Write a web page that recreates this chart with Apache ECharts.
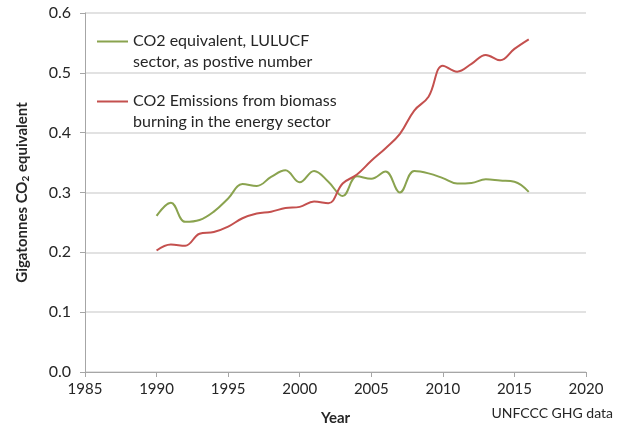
<!DOCTYPE html>
<html>
<head>
<meta charset="utf-8">
<script src="https://cdn.jsdelivr.net/npm/echarts@6/dist/echarts.min.js"></script>
<style>
  html, body { margin: 0; padding: 0; background: #ffffff; }
  #chart { width: 623px; height: 429px; }
</style>
</head>
<body>
<div id="chart"></div>
<script>
// values (Gt CO2 eq)
var years = [1990, 1991, 1992, 1993, 1994, 1995, 1996, 1997, 1998, 1999,
  2000, 2001, 2002, 2003, 2004, 2005, 2006, 2007, 2008, 2009,
  2010, 2011, 2012, 2013, 2014, 2015, 2016]
var lulucf = [0.261, 0.283, 0.251, 0.254, 0.268, 0.290, 0.314, 0.311, 0.326, 0.337,
  0.317, 0.336, 0.318, 0.294, 0.327, 0.323, 0.335, 0.300, 0.336, 0.332,
  0.324, 0.315, 0.316, 0.322, 0.320, 0.318, 0.301]
var biomass = [0.203, 0.213, 0.211, 0.231, 0.234, 0.243, 0.257, 0.265, 0.268, 0.274,
  0.276, 0.285, 0.282, 0.315, 0.330, 0.353, 0.374, 0.398, 0.437, 0.460,
  0.512, 0.502, 0.515, 0.530, 0.521, 0.540, 0.556]
var seriesNames = ['CO2 equivalent, LULUCF sector, as postive number',
  'CO2 Emissions from biomass burning in the energy sector']
var legendLines = {}
legendLines[seriesNames[0]] = 'CO2 equivalent, LULUCF\nsector, as postive number'
legendLines[seriesNames[1]] = 'CO2 Emissions from biomass\nburning in the energy sector'

function pairs (xs, ys) {
  return xs.map(function (x, i) { return [x, ys[i]] })
}

var font = 'Lato, "Open Sans", sans-serif'
var textColor = '#262626'
var chart = echarts.init(document.getElementById('chart'))
chart.setOption({
  animation: false,
  textStyle: { fontFamily: font },
  title: {
    text: 'UNFCCC GHG data',
    right: 5,
    top: 401,
    textStyle: { fontSize: 14, fontWeight: 'normal', color: textColor, fontFamily: font }
  },
  grid: { left: 85, right: 37, top: 13, bottom: 57, outerBoundsMode: 'none' },
  legend: {
    orient: 'vertical',
    left: 92,
    top: 25,
    itemWidth: 31,
    itemHeight: 42,
    itemGap: 17,
    // line stroke sits level with the first text line; the two dots only set the box size
    icon: 'path://M0,0L0.01,0M0,42L0.01,42M0,10L31,10L31,12L0,12Z',
    formatter: function (name) { return legendLines[name] },
    textStyle: {
      fontSize: 16,
      lineHeight: 21.5,
      color: textColor
    },
    data: seriesNames
  },
  xAxis: {
    type: 'value',
    min: 1985,
    max: 2020,
    interval: 5,
    name: 'Year',
    nameLocation: 'middle',
    nameGap: 39,
    nameTextStyle: { fontSize: 15, fontWeight: 'bold', color: textColor },
    axisLine: { lineStyle: { color: '#a6a6a6' } },
    axisTick: { lineStyle: { color: '#a6a6a6' }, length: 5 },
    axisLabel: {
      fontSize: 15,
      color: textColor,
      margin: 10,
      formatter: function (v) { return String(v) }
    },
    splitLine: { show: false }
  },
  yAxis: {
    type: 'value',
    min: 0,
    max: 0.6,
    interval: 0.1,
    name: '{n|Gigatonnes CO}{s|2}{n| equivalent}',
    nameLocation: 'middle',
    nameGap: 54,
    nameTextStyle: {
      rich: {
        n: { fontSize: 15, fontWeight: 'bold', color: textColor, fontFamily: font },
        s: { fontSize: 10, fontWeight: 'bold', color: textColor, fontFamily: font, padding: [8, 0, 0, 0] }
      }
    },
    axisLine: { show: true, lineStyle: { color: '#a6a6a6' } },
    axisTick: { show: true, lineStyle: { color: '#a6a6a6' }, length: 5 },
    axisLabel: {
      fontSize: 16,
      color: textColor,
      margin: 14,
      formatter: function (v) { return v.toFixed(1) }
    },
    splitLine: { lineStyle: { color: '#d9d9d9', width: 1.5 } }
  },
  series: [
    {
      name: seriesNames[0],
      type: 'line',
      data: pairs(years, lulucf),
      smooth: 0.4,
      symbol: 'none',
      itemStyle: { color: '#8aa34f' },
      lineStyle: { color: '#8aa34f', width: 2 }
    },
    {
      name: seriesNames[1],
      type: 'line',
      data: pairs(years, biomass),
      smooth: 0.4,
      symbol: 'none',
      itemStyle: { color: '#c4504e' },
      lineStyle: { color: '#c4504e', width: 2 }
    }
  ]
})
</script>
</body>
</html>
